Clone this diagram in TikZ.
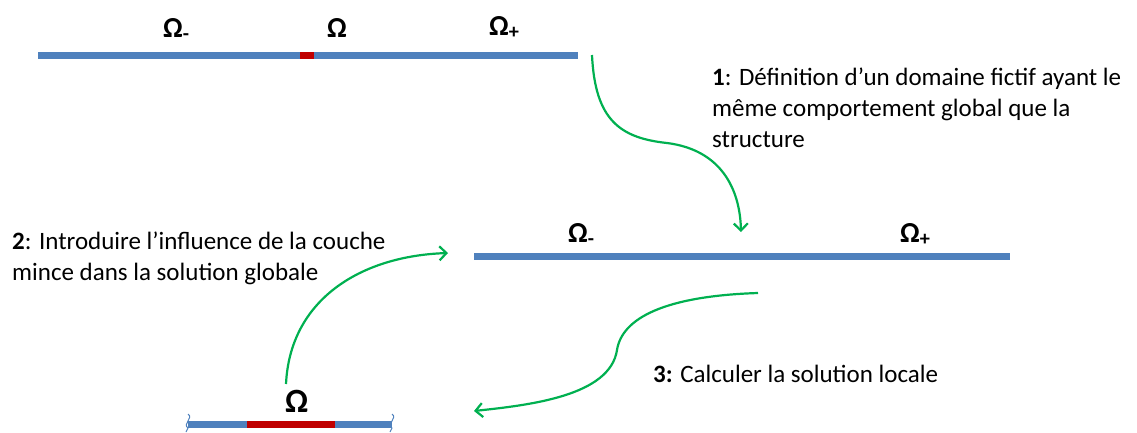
\documentclass[tikz,border=0pt]{standalone}
\usepackage{fontspec}
\setmainfont{Carlito}
\usetikzlibrary{arrows.meta}
\definecolor{barblue}{HTML}{4F81BD}
\definecolor{barred}{HTML}{C00000}
\definecolor{flowgreen}{HTML}{00B050}
\begin{document}
\begin{tikzpicture}
[
    x=1pt, y=-1pt,
    bar/.style={draw=barblue, line width=7pt},
    layer/.style={draw=barred, line width=7pt},
    flow/.style={draw=flowgreen, line width=2.2pt, -{Straight Barb[length=7pt,width=14pt]}},
    dom/.style={anchor=base west, inner sep=0pt, font=\fontsize{29}{30}\selectfont\bfseries},
    note/.style={anchor=base west, inner sep=0pt, align=left, font=\fontsize{25}{31}\selectfont}
]
    \useasboundingbox (0,0) rectangle (1137,432);

    % top: the real structure
    \coordinate (topL) at (38,55);
    \coordinate (topR) at (578,55);
    \coordinate (toplayL) at (300,55);
    \coordinate (toplayR) at (314,55);
    \draw [bar] (topL) -- (topR);
    \draw [layer] (toplayL) -- (toplayR);
    \node [dom] (omm) at (163,37) {Ω\textsubscript{-}};
    \node [dom] (om) at (327,37) {Ω};
    \node [dom] (omp) at (489,35) {Ω\textsubscript{+}};

    % middle: the fictitious domain
    \coordinate (midL) at (474,256);
    \coordinate (midR) at (1010,256);
    \draw [bar] (midL) -- (midR);
    \node [dom] (mmm) at (568,242) {Ω\textsubscript{-}};
    \node [dom] (mmp) at (900,242) {Ω\textsubscript{+}};

    % bottom: the thin layer
    \coordinate (botL) at (188,424);
    \coordinate (botR) at (392,424);
    \coordinate (botlayL) at (247,424);
    \coordinate (botlayR) at (335,424);
    \draw [bar] (botL) -- (botR);
    \draw [layer] (botlayL) -- (botlayR);
    \draw [barblue, line width=1pt] (188,414) .. controls (194,418) and (182,424) .. (188,428) -- (186,432);
    \draw [barblue, line width=1pt] (392,414) .. controls (398,418) and (386,424) .. (392,428) -- (390,432);
    \node [dom, font=\fontsize{34}{34}\selectfont\bfseries] (bom) at (285,412) {Ω};

    % steps
    \coordinate (s1a) at (592,55);
    \coordinate (s1b) at (741,232);
    \draw [flow] (s1a) .. controls (595,120) and (620,138) .. (667,143)
                       .. controls (722,150) and (740,190) .. (s1b);
    \node [note] (t1) at (712,147) {\textbf{1}: Définition d’un domaine fictif ayant le\\même comportement global que la\\structure};

    \coordinate (s2a) at (286,384);
    \coordinate (s2b) at (448,253);
    \draw [flow] (s2a) .. controls (290,300) and (360,256) .. (s2b);
    \node [note] (t2) at (12,280) {\textbf{2}: Introduire l’influence de la couche\\mince dans la solution globale};

    \coordinate (s3a) at (758,293);
    \coordinate (s3b) at (474,411);
    \draw [flow] (s3a) .. controls (665,296) and (622,318) .. (617,350)
                       .. controls (610,396) and (530,405) .. (s3b);
    \node [note] (t3) at (653,382) {\textbf{3:} Calculer la solution locale};
\end{tikzpicture}
\end{document}
